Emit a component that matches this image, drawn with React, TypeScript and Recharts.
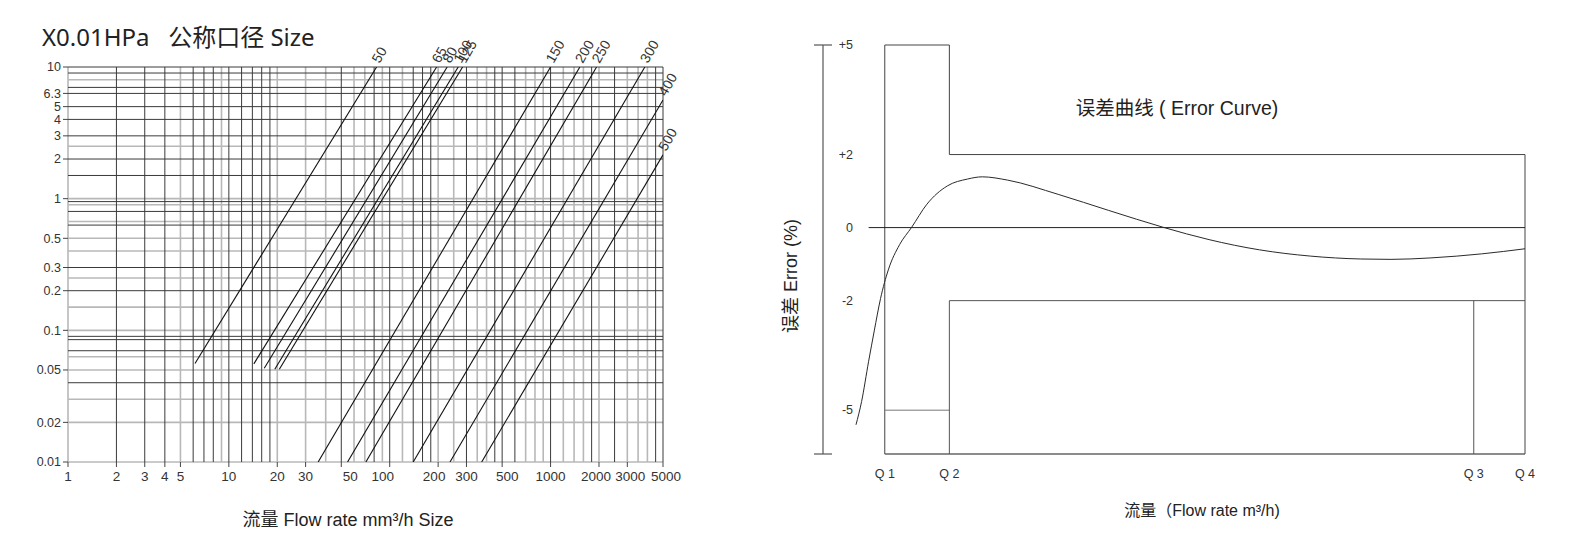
import { Line, LineChart, ReferenceLine, XAxis, YAxis } from "recharts";

// left panel: head loss vs flow, log-log
const SIZES = ["50", "65", "80", "100", "125", "150", "200", "250", "300", "400", "500"];
const FLOW_START = [6.16, 14.3, 16.6, 19.3, 20.6, 35.9, 54.7, 71.1, 140, 237, 373];
const LOSS_START = [0.056, 0.0556, 0.0515, 0.0507, 0.0507, 0.01, 0.01, 0.01, 0.01, 0.01, 0.01];
const FLOW_END = [82.9, 195.7, 227.6, 266.6, 283.9, 1000, 1521, 1932, 3855, 5000, 5000];
const LOSS_END = [10, 10, 10, 10, 10, 10, 10, 10, 10, 5.62, 2.15];

const FLOW_TICKS = [1, 2, 3, 4, 5, 10, 20, 30, 50, 100, 200, 300, 500, 1000, 2000, 3000, 5000];
const LOSS_TICKS = [0.01, 0.02, 0.05, 0.1, 0.2, 0.3, 0.5, 1, 2, 3, 4, 5, 6.3, 10];

const V_GRID_DARK = [2, 3, 4, 6, 7, 8, 10, 12, 14, 16, 18, 50, 80, 100, 140, 160, 180, 300, 450, 500, 600, 1000, 1800, 2500, 4500, 5000];
const V_GRID_LIGHT = [1, 5, 9, 20, 30, 40, 60, 70, 90, 120, 200, 250, 350, 400, 700, 800, 900, 1200, 1400, 1600, 2000, 3000, 3500, 4000];
const H_GRID_DARK = [10, 9, 7, 6.3, 5, 4, 3, 2, 1.5, 0.95, 0.8, 0.63, 0.3, 0.2, 0.09, 0.085, 0.07, 0.04];
const H_GRID_LIGHT = [8, 2.5, 1, 0.9, 0.67, 0.5, 0.4, 0.25, 0.15, 0.1, 0.063, 0.05, 0.03, 0.02, 0.01];

// right panel: error curve
const Q_NAMES = ["Q 1", "Q 2", "Q 3", "Q 4"];
const Q_FLOW = [8.8, 18, 92.7, 100];
const ERROR_TICKS = [5, 2, 0, -2, -5];
const ERROR_MIN = -6.2;
const CURVE_FLOW = [4.7, 5.5, 6.5, 7.3, 8.2, 9.3, 10.9, 12.6, 14.8, 17.7, 20.6, 22.7, 26.3, 33.5, 40.7, 48.6, 55, 62.2, 69.4, 76.6, 80.9, 86.6, 93.8, 100];
const CURVE_ERROR = [-5.4, -4.76, -3.66, -2.83, -1.94, -1.16, -0.47, 0, 0.64, 1.14, 1.33, 1.39, 1.3, 0.91, 0.47, 0, -0.33, -0.61, -0.78, -0.86, -0.87, -0.83, -0.72, -0.58];
const ZERO_START = 6.5;

const FONT = '"Liberation Sans", Arial, "Noto Sans CJK SC", sans-serif';
const INK = "#2a2a2a";

// the printed x labels sit a little off their ticks in places
const FLOW_LABEL_SHIFT: Record<number, number> = { 50: 9, 100: -7, 200: -4, 500: 5, 2000: -3, 3000: 3, 5000: 3 };

const [Q1, Q2, Q3, Q4] = Q_FLOW;
const upperLimit = [
  { x: Q1, y: ERROR_MIN },
  { x: Q1, y: ERROR_TICKS[0] },
  { x: Q2, y: ERROR_TICKS[0] },
  { x: Q2, y: ERROR_TICKS[1] },
  { x: Q4, y: ERROR_TICKS[1] },
  { x: Q4, y: ERROR_MIN },
];
const lowLimit = [
  { x: Q1, y: ERROR_TICKS[4] },
  { x: Q2, y: ERROR_TICKS[4] },
];
const midLimit = [
  { x: Q2, y: ERROR_MIN },
  { x: Q2, y: ERROR_TICKS[3] },
  { x: Q4, y: ERROR_TICKS[3] },
];
const q3Line = [
  { x: Q3, y: ERROR_TICKS[3] },
  { x: Q3, y: ERROR_MIN },
];
const baseLine = [
  { x: Q1, y: ERROR_MIN },
  { x: Q4, y: ERROR_MIN },
];
const zeroLine = [
  { x: ZERO_START, y: 0 },
  { x: Q4, y: 0 },
];
const curve = CURVE_FLOW.map((x, i) => ({ x, y: CURVE_ERROR[i] }));

function sizeLabel(name: string) {
  return (props: any) => {
    if (props.index !== 1) return null;
    const x = (props.x ?? props.viewBox?.x) + 3;
    const y = (props.y ?? props.viewBox?.y) - 3;
    return (
      <text x={x} y={y} transform={`rotate(-60, ${x}, ${y})`} fontSize={14} fontFamily={FONT} fill="#333">
        {name}
      </text>
    );
  };
}

function FlowTick(props: any) {
  const { x, y, payload } = props;
  const v = payload.value;
  return (
    <text x={x + (FLOW_LABEL_SHIFT[v] ?? 0)} y={y} dy={12} textAnchor="middle" fontSize={13.5} fontFamily={FONT} fill="#333">
      {v}
    </text>
  );
}

function HeadLossChart() {
  const tickStyle = { fill: "#333", fontSize: 12.5, fontFamily: FONT };
  return (
    <LineChart width={700} height={550} margin={{ top: 67, right: 37, bottom: 18, left: 8 }}>
      <XAxis
        dataKey="x"
        type="number"
        scale="log"
        domain={[1, 5000]}
        allowDataOverflow
        ticks={FLOW_TICKS}
        interval={0}
        height={70}
        axisLine={false}
        tickSize={5}
        tickLine={{ stroke: "#444" }}
        tick={(p: any) => <FlowTick {...p} />}
      />
      <YAxis
        type="number"
        scale="log"
        domain={[0.01, 10]}
        allowDataOverflow
        ticks={LOSS_TICKS}
        interval={0}
        width={60}
        axisLine={false}
        tickSize={5}
        tickLine={{ stroke: "#444" }}
        tick={tickStyle}
      />
      {V_GRID_LIGHT.map((v) => (
        <ReferenceLine key={"vl" + v} x={v} stroke="#b8b8b8" strokeWidth={1.6} />
      ))}
      {H_GRID_LIGHT.map((v) => (
        <ReferenceLine key={"hl" + v} y={v} stroke="#b8b8b8" strokeWidth={1.6} />
      ))}
      {V_GRID_DARK.map((v) => (
        <ReferenceLine key={"vd" + v} x={v} stroke="#3a3a3a" strokeWidth={1} />
      ))}
      {H_GRID_DARK.map((v) => (
        <ReferenceLine key={"hd" + v} y={v} stroke="#3a3a3a" strokeWidth={1} />
      ))}
      {SIZES.map((name, i) => (
        <Line
          key={name}
          data={[
            { x: FLOW_START[i], y: LOSS_START[i] },
            { x: FLOW_END[i], y: LOSS_END[i] },
          ]}
          dataKey="y"
          stroke="#111"
          strokeWidth={1.1}
          dot={false}
          isAnimationActive={false}
          label={sizeLabel(name)}
        />
      ))}
    </LineChart>
  );
}

function ErrorTick(props: any) {
  const { x, y, payload } = props;
  const v = payload.value;
  const edge = v === ERROR_TICKS[0] || v === ERROR_MIN;
  const text = v === ERROR_MIN ? "" : v > 0 ? `+${v}` : String(v);
  return (
    <g>
      {edge && <line x1={x - 9} x2={x + 9} y1={y} y2={y} stroke="#555" strokeWidth={1.2} />}
      <text x={x + 30} y={y} dy={4} textAnchor="end" fontSize={12.5} fontFamily={FONT} fill="#333">
        {text}
      </text>
    </g>
  );
}

function ErrorChart() {
  const common = { dataKey: "y", dot: false, isAnimationActive: false, strokeWidth: 1 };
  return (
    <LineChart width={800} height={550} margin={{ top: 45, right: 35, bottom: 16, left: 23 }}>
      <XAxis
        dataKey="x"
        type="number"
        domain={[0, 100]}
        ticks={Q_FLOW}
        interval={0}
        tickFormatter={(v) => Q_NAMES[Q_FLOW.indexOf(v)] ?? ""}
        axisLine={false}
        tickLine={false}
        tickSize={0}
        tickMargin={15}
        height={80}
        tick={{ fill: "#333", fontSize: 12.5, fontFamily: FONT }}
      />
      <YAxis
        type="number"
        domain={[ERROR_MIN, 5]}
        ticks={[...ERROR_TICKS, ERROR_MIN]}
        interval={0}
        width={40}
        tickSize={0}
        tickMargin={0}
        tickLine={false}
        axisLine={{ stroke: "#555", strokeWidth: 1.2 }}
        tick={(p: any) => <ErrorTick {...p} />}
      />
      <Line {...common} data={baseLine} stroke="#666" strokeWidth={1.5} />
      <Line {...common} data={upperLimit} stroke="#444" />
      <Line {...common} data={lowLimit} stroke="#777" />
      <Line {...common} data={midLimit} stroke="#555" />
      <Line {...common} data={q3Line} stroke="#555" />
      <Line {...common} data={zeroLine} stroke="#222" />
      <Line {...common} data={curve} type="monotone" stroke={INK} />
    </LineChart>
  );
}

const textBase = {
  position: "absolute" as const,
  whiteSpace: "pre" as const,
  color: "#222",
  fontFamily: FONT,
  lineHeight: 1,
};

export default function App() {
  return (
    <div style={{ position: "absolute", left: 0, top: 0, width: 1580, height: 550, background: "#fff" }}>
      <div style={{ position: "absolute", left: 0, top: 0 }}>
        <HeadLossChart />
      </div>
      <div style={{ position: "absolute", left: 760, top: 0 }}>
        <ErrorChart />
      </div>
      <div style={{ ...textBase, left: 42, top: 25, fontSize: 24, fontFamily: '"Noto Sans", "Noto Sans CJK SC", sans-serif' }}>
        {"X0.01HPa   公称口径 Size"}
      </div>
      <div style={{ ...textBase, left: 348, top: 520, fontSize: 18, transform: "translate(-50%, -50%)" }}>
        流量 Flow rate mm³/h Size
      </div>
      <div style={{ ...textBase, left: 1177, top: 109, fontSize: 19.5, transform: "translate(-50%, -50%)" }}>
        误差曲线 ( Error Curve)
      </div>
      <div style={{ ...textBase, left: 1202, top: 511, fontSize: 16, transform: "translate(-50%, -50%)" }}>
        流量（Flow rate m³/h)
      </div>
      <div style={{ ...textBase, left: 791, top: 276, fontSize: 18, transform: "translate(-50%, -50%) rotate(-90deg)" }}>
        误差 Error (%)
      </div>
    </div>
  );
}
